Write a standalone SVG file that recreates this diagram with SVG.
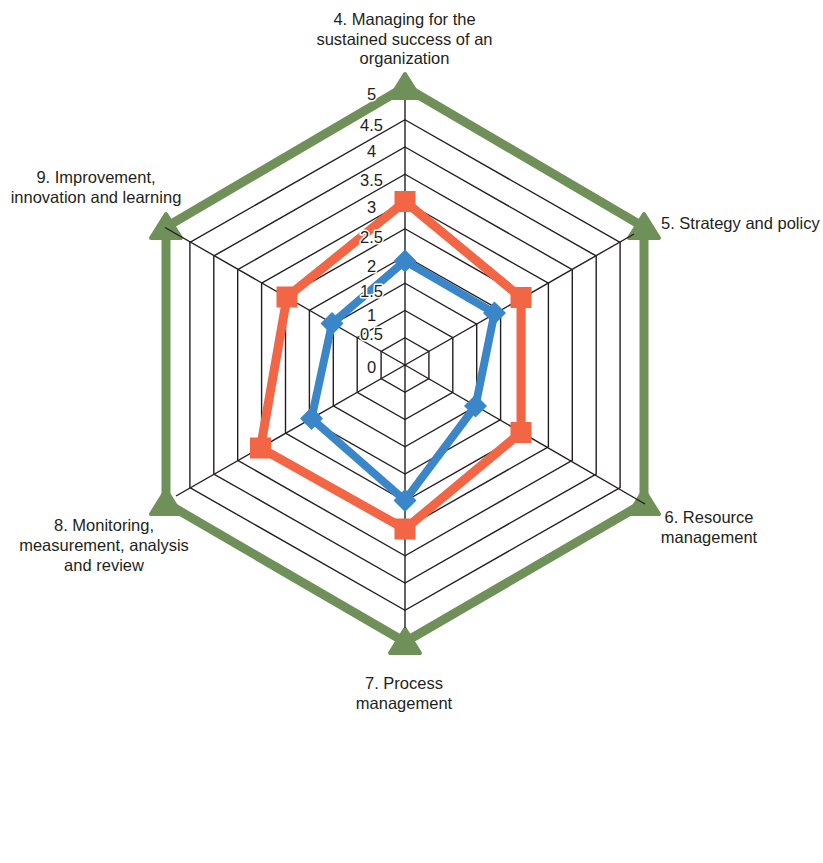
<svg xmlns="http://www.w3.org/2000/svg" width="823" height="863" viewBox="0 0 823 863">
<style>
.grid{fill:none;stroke:#231f20;stroke-width:1.4}
.axis{stroke:#231f20;stroke-width:1.4}
.lbl{font-family:"Liberation Sans",Arial,sans-serif;font-size:16.5px;fill:#231f20}
.tick{font-family:"Liberation Sans",Arial,sans-serif;font-size:16.5px;fill:#231f20;text-anchor:middle;paint-order:stroke;stroke:#fff;stroke-width:3px;stroke-linejoin:round}
.green{fill:none;stroke:#6f9159;stroke-width:9;stroke-linejoin:miter}
.orange{fill:none;stroke:#f26645;stroke-width:9;stroke-linejoin:miter}
.blue{fill:none;stroke:#3a86c9;stroke-width:8;stroke-linejoin:miter}
</style>
<defs>
<path id="tri" d="M0,-13 L15,11 L-15,11 Z" fill="#6f9159" stroke="#6f9159" stroke-width="4" stroke-linejoin="round"/>
<rect id="sq" x="-10.5" y="-10.5" width="21" height="21" fill="#f26645"/>
<path id="dia" d="M0,-11.5 L11.5,0 L0,11.5 L-11.5,0 Z" fill="#3a86c9"/>
</defs>
<rect width="823" height="863" fill="#fff"/>
<g id="grid">
<polygon class="grid" points="405,337.75 428.9,351.375 428.9,378.625 405,392.25 381.1,378.625 381.1,351.375"/>
<polygon class="grid" points="405,310.5 452.8,337.75 452.8,392.25 405,419.5 357.2,392.25 357.2,337.75"/>
<polygon class="grid" points="405,283.25 476.7,324.125 476.7,405.875 405,446.75 333.3,405.875 333.3,324.125"/>
<polygon class="grid" points="405,256 500.6,310.5 500.6,419.5 405,474 309.4,419.5 309.4,310.5"/>
<polygon class="grid" points="405,228.75 524.5,296.875 524.5,433.125 405,501.25 285.5,433.125 285.5,296.875"/>
<polygon class="grid" points="405,201.5 548.4,283.25 548.4,446.75 405,528.5 261.6,446.75 261.6,283.25"/>
<polygon class="grid" points="405,174.25 572.3,269.625 572.3,460.375 405,555.75 237.7,460.375 237.7,269.625"/>
<polygon class="grid" points="405,147 596.2,256 596.2,474 405,583 213.8,474 213.8,256"/>
<polygon class="grid" points="405,119.75 620.1,242.375 620.1,487.625 405,610.25 189.9,487.625 189.9,242.375"/>
<polygon class="grid" points="405,87 644,227 644,503 405,642 166,503 166,227"/>
</g>
<g id="series-green">
<polygon class="green" points="405,87 644,227 644,503 405,642 166,503 166,227"/>
<use href="#tri" x="405" y="87"/>
<use href="#tri" x="644" y="227"/>
<use href="#tri" x="644" y="503"/>
<use href="#tri" x="405" y="642"/>
<use href="#tri" x="166" y="503"/>
<use href="#tri" x="166" y="227"/>
</g>
<g id="axes">
<line class="axis" x1="405" y1="365" x2="405" y2="100"/>
<line class="axis" x1="405" y1="365" x2="634" y2="234"/>
<line class="axis" x1="405" y1="365" x2="645" y2="504"/>
<line class="axis" x1="405" y1="365" x2="405" y2="628"/>
<line class="axis" x1="405" y1="365" x2="176" y2="496"/>
<line class="axis" x1="405" y1="365" x2="165" y2="227.5"/>
</g>
<g id="series-orange">
<polygon class="orange" points="405,201.5 521,297.5 521,432.5 405,529 260.5,448 287,297"/>
<use href="#sq" x="405" y="201.5"/>
<use href="#sq" x="521" y="297.5"/>
<use href="#sq" x="521" y="432.5"/>
<use href="#sq" x="405" y="529"/>
<use href="#sq" x="260.5" y="448"/>
<use href="#sq" x="287" y="297"/>
</g>
<g id="series-blue">
<polygon class="blue" points="405,261 494.5,313 475.5,406 405,500.5 311.5,418.5 332,323.5"/>
<use href="#dia" x="405" y="261"/>
<use href="#dia" x="494.5" y="313"/>
<use href="#dia" x="475.5" y="406"/>
<use href="#dia" x="405" y="500.5"/>
<use href="#dia" x="311.5" y="418.5"/>
<use href="#dia" x="332" y="323.5"/>
</g>
<g id="tick-labels">
<text class="tick" x="371.5" y="99.5">5</text>
<text class="tick" x="371.5" y="130.7">4.5</text>
<text class="tick" x="371.5" y="157.3">4</text>
<text class="tick" x="371.5" y="186">3.5</text>
<text class="tick" x="371.5" y="212.7">3</text>
<text class="tick" x="371.5" y="243.3">2.5</text>
<text class="tick" x="371.5" y="271.7">2</text>
<text class="tick" x="371.5" y="296.7">1.5</text>
<text class="tick" x="371.5" y="320.7">1</text>
<text class="tick" x="371.5" y="340">0.5</text>
<text class="tick" x="371.5" y="373.3">0</text>
</g>
<g id="label-4">
<text class="lbl" text-anchor="middle" x="404.5" y="25">4. Managing for the</text>
<text class="lbl" text-anchor="middle" x="404.5" y="45">sustained success of an</text>
<text class="lbl" text-anchor="middle" x="404.5" y="64">organization</text>
</g>
<g id="label-5">
<text class="lbl" x="661" y="229">5. Strategy and policy</text>
</g>
<g id="label-6">
<text class="lbl" text-anchor="middle" x="709" y="523">6. Resource</text>
<text class="lbl" text-anchor="middle" x="709" y="542.5">management</text>
</g>
<g id="label-7">
<text class="lbl" text-anchor="middle" x="404" y="688.5">7. Process</text>
<text class="lbl" text-anchor="middle" x="404" y="708.5">management</text>
</g>
<g id="label-8">
<text class="lbl" text-anchor="middle" x="104" y="530.5">8. Monitoring,</text>
<text class="lbl" text-anchor="middle" x="104" y="550.5">measurement, analysis</text>
<text class="lbl" text-anchor="middle" x="104" y="570.5">and review</text>
</g>
<g id="label-9">
<text class="lbl" text-anchor="middle" x="96" y="183">9. Improvement,</text>
<text class="lbl" text-anchor="middle" x="96" y="202.5">innovation and learning</text>
</g>
</svg>
